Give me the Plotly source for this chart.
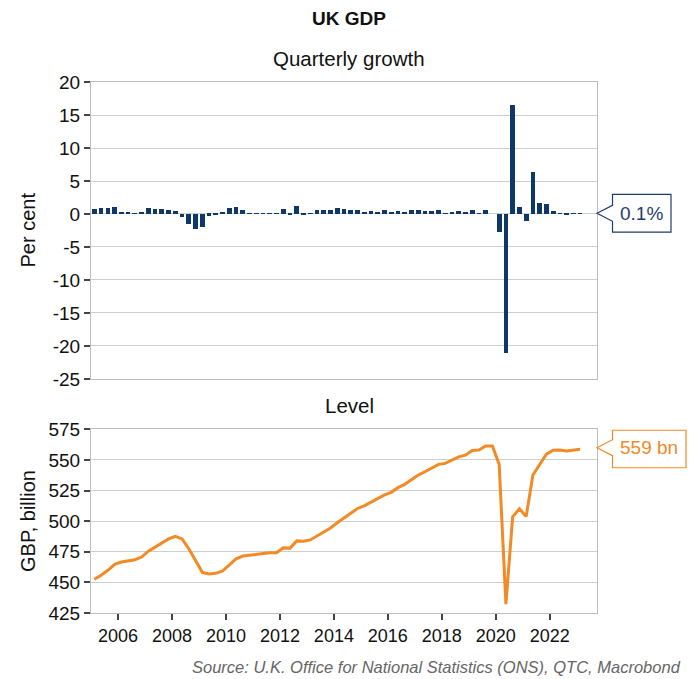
import plotly.graph_objects as go
from plotly.subplots import make_subplots

# ---- data (quarterly, 2005Q1 .. 2023Q1) ----
first_year = 2005
growth = [0.7, 0.9, 0.85, 1.0,
          0.35, 0.2, 0.15, 0.35,
          0.95, 0.7, 0.7, 0.65,
          0.45, -0.45, -1.45, -2.2,
          -1.9, -0.3, -0.05, 0.25,
          0.85, 1.1, 0.6, 0.1,
          0.15, 0.05, 0.05, 0.05,
          0.7, -0.05, 1.15, -0.1,
          0.15, 0.6, 0.6, 0.55,
          0.85, 0.8, 0.65, 0.55,
          0.35, 0.5, 0.35, 0.55,
          0.3, 0.5, 0.35, 0.55,
          0.55, 0.45, 0.4, 0.55,
          0.1, 0.35, 0.4, 0.2,
          0.55, 0.1, 0.55, 0.0,
          -2.7, -21.0, 16.5, 1.1,
          -1.1, 6.4, 1.65, 1.45,
          0.4, 0.05, -0.1, 0.05,
          0.1]
level = [452.6, 455.8, 459.9, 464.7,
         466.6, 467.7, 468.5, 470.7,
         475.5, 478.8, 482.3, 485.5,
         487.7, 485.5, 477.4, 467.2,
         458.2, 456.9, 457.4, 459.3,
         464.2, 469.3, 471.5, 472.0,
         473.1, 473.6, 474.2, 474.2,
         478.2, 478.0, 483.9, 483.6,
         484.7, 487.7, 490.9, 494.4,
         498.7, 502.6, 506.6, 510.4,
         512.6, 515.5, 518.0, 521.5,
         523.6, 527.4, 530.1, 533.6,
         537.7, 540.4, 543.1, 546.4,
         547.2, 549.6, 552.6, 553.9,
         557.7, 558.2, 561.5, 561.5,
         546.4, 432.3, 503.6, 510.1,
         503.9, 537.7, 546.4, 554.7,
         558.0, 558.2, 557.4, 558.0,
         558.8]
year_ticks = [2006, 2008, 2010, 2012, 2014, 2016, 2018, 2020, 2022]
growth_ticks = [20, 15, 10, 5, 0, -5, -10, -15, -20, -25]
level_ticks = [575, 550, 525, 500, 475, 450, 425]
growth_label = "0.1%"
level_label = "559 bn"

# quarter mid-points in decimal years
x = [first_year + 0.125 + 0.25 * i for i in range(len(growth))]

NAVY = "#0d3868"
ORANGE = "#f28a26"
GRID = "#cfcfcf"
FONT = "Liberation Sans, Arial, sans-serif"

fig = make_subplots(rows=2, cols=1, shared_xaxes=False, vertical_spacing=0.05)

fig.add_trace(go.Bar(x=x, y=growth, width=0.175, marker_color=NAVY,
                     marker_line_width=0, showlegend=False), row=1, col=1)
fig.add_trace(go.Scatter(x=x, y=level, mode="lines",
                         line=dict(color=ORANGE, width=3), showlegend=False),
              row=2, col=1)

xcommon = dict(range=[2005.0, 2023.75], showgrid=False, zeroline=False,
               showline=True, linecolor="#bdbdbd", linewidth=1, mirror=True)
fig.update_xaxes(**xcommon, showticklabels=False, ticks="", row=1, col=1)
fig.update_xaxes(**xcommon, tickvals=year_ticks,
                 ticktext=[str(t) for t in year_ticks], ticks="outside",
                 ticklen=6, tickcolor="#444", tickwidth=1.5,
                 tickfont=dict(size=18, color="#111", family=FONT), row=2, col=1)

ycommon = dict(showgrid=True, gridcolor=GRID, gridwidth=1, zeroline=False,
               showline=True, linecolor="#bdbdbd", linewidth=1, mirror=True,
               ticks="outside", ticklen=6, tickcolor="#444", tickwidth=1.5,
               tickfont=dict(size=19, color="#111", family=FONT))
fig.update_yaxes(**ycommon, range=[-25, 20], tickvals=growth_ticks,
                 ticktext=[str(t) for t in growth_ticks],
                 domain=[0.4407, 1.0], row=1, col=1)
fig.update_yaxes(**ycommon, range=[425, 575], tickvals=level_ticks,
                 ticktext=[str(t) for t in level_ticks],
                 domain=[0.0, 0.3458], row=2, col=1)

def callout(xref, yref, yval, width, color, text, up, down):
    fig.add_shape(type="path", xref=xref, yref=yref,
                  xsizemode="pixel", ysizemode="pixel",
                  xanchor=1.0, yanchor=yval,
                  path=(f"M 0 0 L 15.5 8 L 15.5 {up} L {width} {up} "
                        f"L {width} {-down} L 15.5 {-down} L 15.5 -8 Z"),
                  line=dict(color=color, width=1.2), fillcolor="white")
    fig.add_annotation(xref=xref, yref=yref, x=1.0, y=yval,
                       xanchor="center", yanchor="middle",
                       xshift=15.5 + (width - 15.5) / 2 - 0.5, showarrow=False,
                       text=text, font=dict(size=19, color=color, family=FONT))

callout("x domain", "y", growth[-1], 74, "#1f3d6b", growth_label, 19, 18.7)
callout("x2 domain", "y2", level[-1] + 1.2, 89, ORANGE, level_label, 17.7, 20)

fig.add_annotation(xref="paper", yref="paper", x=0.51, y=1.1205,
                   text="<b>UK GDP</b>", showarrow=False,
                   font=dict(size=19, color="#111", family=FONT),
                   xanchor="center", yanchor="middle")
fig.add_annotation(xref="paper", yref="paper", x=0.51, y=1.045,
                   text="Quarterly growth", showarrow=False,
                   font=dict(size=20.5, color="#111", family=FONT),
                   xanchor="center", yanchor="middle")
fig.add_annotation(xref="paper", yref="paper", x=0.51, y=0.3917,
                   text="Level", showarrow=False,
                   font=dict(size=20.5, color="#111", family=FONT),
                   xanchor="center", yanchor="middle")
fig.add_annotation(xref="paper", yref="paper", x=-0.1245, y=0.7203,
                   text="Per cent", textangle=-90, showarrow=False,
                   font=dict(size=20, color="#111", family=FONT),
                   xanchor="center", yanchor="middle")
fig.add_annotation(xref="paper", yref="paper", x=-0.1245, y=0.1733,
                   text="GBP, billion", textangle=-90, showarrow=False,
                   font=dict(size=20, color="#111", family=FONT),
                   xanchor="center", yanchor="middle")
fig.add_annotation(xref="paper", yref="paper", x=1.17, y=-0.1017,
                   text="<i>Source: U.K. Office for National Statistics (ONS), QTC, Macrobond</i>",
                   showarrow=False, font=dict(size=16.5, color="#666666", family=FONT),
                   xanchor="right", yanchor="middle")

fig.update_layout(width=700, height=679, autosize=False,
                  margin=dict(l=91, r=103, t=82, b=66),
                  paper_bgcolor="white", plot_bgcolor="white",
                  bargap=0, font=dict(family=FONT))

fig.write_html("out.html")
